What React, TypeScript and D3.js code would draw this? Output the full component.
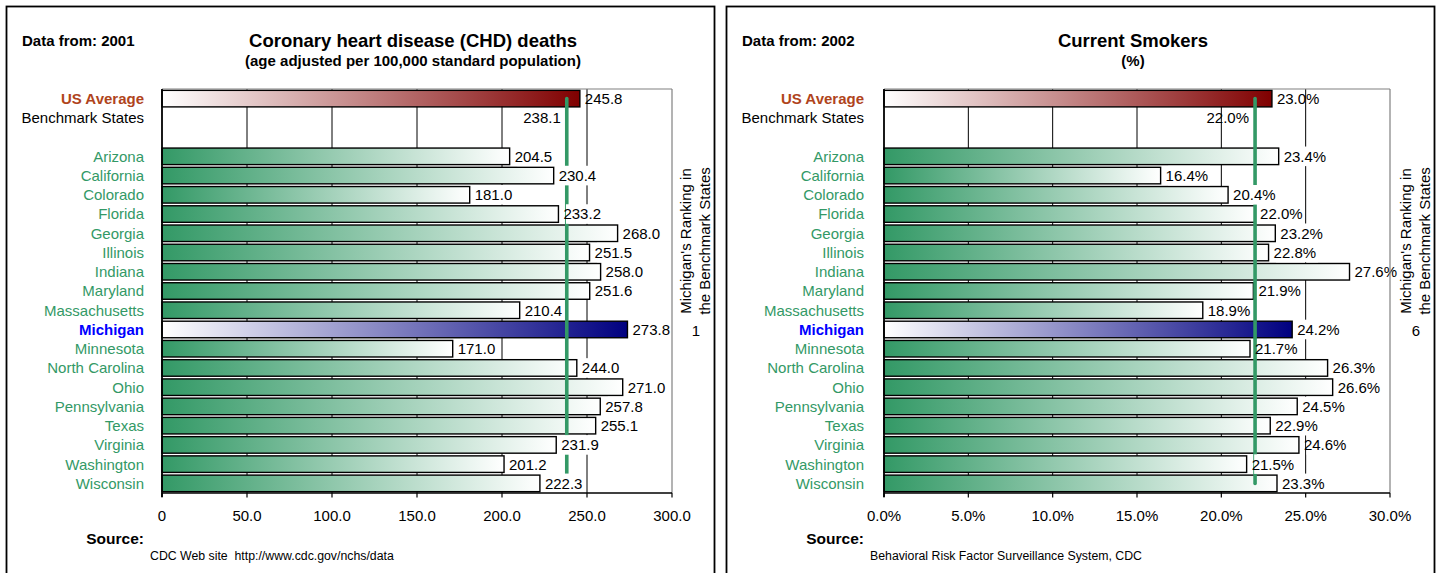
import React from 'react';
import * as d3 from 'd3';

// ---- data ----
const STATES = [
  'Arizona', 'California', 'Colorado', 'Florida', 'Georgia', 'Illinois', 'Indiana',
  'Maryland', 'Massachusetts', 'Michigan', 'Minnesota', 'North Carolina', 'Ohio',
  'Pennsylvania', 'Texas', 'Virginia', 'Washington', 'Wisconsin',
];
const CHD_VALUES = [
  204.5, 230.4, 181.0, 233.2, 268.0, 251.5, 258.0, 251.6, 210.4, 273.8,
  171.0, 244.0, 271.0, 257.8, 255.1, 231.9, 201.2, 222.3,
];
const CHD_US_AVERAGE = 245.8;
const CHD_BENCHMARK = 238.1;
const CHD_RANK = 1;
const CHD_TICKS = [0, 50, 100, 150, 200, 250, 300];

const SMOKER_VALUES = [
  23.4, 16.4, 20.4, 22.0, 23.2, 22.8, 27.6, 21.9, 18.9, 24.2,
  21.7, 26.3, 26.6, 24.5, 22.9, 24.6, 21.5, 23.3,
];
const SMOKER_US_AVERAGE = 23.0;
const SMOKER_BENCHMARK = 22.0;
const SMOKER_RANK = 6;
const SMOKER_TICKS = [0, 5, 10, 15, 20, 25, 30];

const ROW_LABELS = ['US Average', 'Benchmark States', '', ...STATES];

// ---- styling ----
const FONT = 'Liberation Sans, Arial, Helvetica, sans-serif';
const GREEN = '#339966';
const PLOT_TOP = 89;
const PLOT_BOTTOM = 493;
const FS = 15;

// approximate advance widths (Arial, 15px) for sizing label backgrounds
function labelWidth(s: string) {
  let w = 0;
  for (const ch of s) {
    if (ch === '.') w += 4.17;
    else if (ch === '%') w += 13.3;
    else w += 8.34;
  }
  return w;
}

type PanelProps = {
  id: string;
  left: number; // panel offset
  plotLeft: number;
  plotRight: number;
  max: number;
  ticks: number[];
  tickFormat: (v: number) => string;
  valueFormat: (v: number) => string;
  values: number[];
  usAverage: number;
  benchmark: number;
  rank: number;
  year: string;
  title: string;
  subtitle: string;
  source: string;
};

function Panel(p: PanelProps) {
  const x = d3.scaleLinear().domain([0, p.max]).range([p.plotLeft, p.plotRight]);
  const y = d3
    .scaleBand<number>()
    .domain(d3.range(ROW_LABELS.length))
    .range([PLOT_TOP, PLOT_BOTTOM])
    .paddingInner(0.14)
    .paddingOuter(0.07);
  const bw = y.bandwidth();
  const center = (i: number) => (y(i) as number) + bw / 2;
  const L = p.left;
  const titleX = L + 413;
  const labelX = L + 144;

  const bars = [
    { row: 0, value: p.usAverage, fill: `url(#${p.id}-us)`, bg: false },
    ...p.values.map((v, k) => ({
      row: k + 3,
      value: v,
      fill: STATES[k] === 'Michigan' ? `url(#${p.id}-mi)` : `url(#${p.id}-green)`,
      bg: true,
    })),
  ];

  const benchX = x(p.benchmark);

  const rowColor = (name: string, i: number) => {
    if (i === 0) return '#b0441c';
    if (i === 1) return '#000';
    if (name === 'Michigan') return '#0000ff';
    return GREEN;
  };

  return (
    <g>
      <defs>
        <linearGradient id={`${p.id}-green`} x1="0" x2="1" y1="0" y2="0">
          <stop offset="0" stopColor={GREEN} />
          <stop offset="1" stopColor="#ffffff" />
        </linearGradient>
        <linearGradient id={`${p.id}-us`} x1="0" x2="1" y1="0" y2="0">
          <stop offset="0" stopColor="#ffffff" />
          <stop offset="1" stopColor="#800000" />
        </linearGradient>
        <linearGradient id={`${p.id}-mi`} x1="0" x2="1" y1="0" y2="0">
          <stop offset="0" stopColor="#ffffff" />
          <stop offset="1" stopColor="#000080" />
        </linearGradient>
      </defs>

      {/* panel frame */}
      <rect x={L + 6.5} y={6.5} width={708} height={640} fill="#fff" stroke="#000" strokeWidth={1.8} />

      {/* headings */}
      <text x={L + 22} y={46} fontSize={15} fontWeight="bold">
        Data from: {p.year}
      </text>
      <text x={titleX} y={47} fontSize={18.5} fontWeight="bold" textAnchor="middle">
        {p.title}
      </text>
      <text x={titleX} y={66} fontSize={15} fontWeight="bold" textAnchor="middle">
        {p.subtitle}
      </text>

      {/* gridlines */}
      {p.ticks
        .filter((t) => t > 0 && t < p.max)
        .map((t) => (
          <line key={t} x1={x(t)} x2={x(t)} y1={PLOT_TOP} y2={PLOT_BOTTOM} stroke="#000" strokeWidth={1} />
        ))}

      {/* bars */}
      {bars.map((b) => (
        <rect
          key={b.row}
          x={x(0)}
          y={y(b.row)}
          width={x(b.value) - x(0)}
          height={bw}
          fill={b.fill}
          stroke="#000"
          strokeWidth={1.4}
        />
      ))}

      {/* benchmark average line */}
      <line
        x1={benchX}
        x2={benchX}
        y1={center(0)}
        y2={center(ROW_LABELS.length - 1)}
        stroke={GREEN}
        strokeWidth={3.6}
        strokeLinecap="round"
      />

      {/* value labels */}
      <g fontSize={FS} fill="#000">
        {bars.map((b) => {
          const txt = p.valueFormat(b.value);
          const tx = x(b.value) + 5;
          const c = center(b.row);
          return (
            <g key={b.row}>
              {b.bg && (
                <rect x={tx + 2.5} y={c - 9.8} width={labelWidth(txt) - 0.5} height={19.6} fill="#fff" />
              )}
              <text x={tx} y={c} dy="0.36em">
                {txt}
              </text>
            </g>
          );
        })}
        <text x={benchX - 6} y={center(1)} dy="0.36em" textAnchor="end">
          {p.valueFormat(p.benchmark)}
        </text>
      </g>

      {/* plot frame and axes */}
      <line x1={x(0)} x2={p.plotRight} y1={PLOT_TOP} y2={PLOT_TOP} stroke="#808080" strokeWidth={1.2} />
      <line x1={p.plotRight} x2={p.plotRight} y1={PLOT_TOP} y2={PLOT_BOTTOM} stroke="#808080" strokeWidth={1.2} />
      <line x1={x(0)} x2={x(0)} y1={PLOT_TOP} y2={PLOT_BOTTOM + 4} stroke="#000" strokeWidth={1.8} />
      <line x1={x(0)} x2={p.plotRight} y1={PLOT_BOTTOM} y2={PLOT_BOTTOM} stroke="#000" strokeWidth={1.5} />
      {p.ticks.map((t) => (
        <g key={t}>
          <line x1={x(t)} x2={x(t)} y1={PLOT_BOTTOM} y2={PLOT_BOTTOM + 4.5} stroke="#000" strokeWidth={1.2} />
          <text x={x(t)} y={521} fontSize={FS} textAnchor="middle">
            {p.tickFormat(t)}
          </text>
        </g>
      ))}

      {/* row labels */}
      {ROW_LABELS.map((name, i) =>
        name ? (
          <text
            key={i}
            x={labelX}
            y={center(i)}
            dy="0.36em"
            textAnchor="end"
            fontSize={FS}
            fontWeight={i === 0 || name === 'Michigan' ? 'bold' : 'normal'}
            fill={rowColor(name, i)}
          >
            {name}
          </text>
        ) : null
      )}

      {/* ranking note */}
      <g fontSize={FS} textAnchor="middle">
        <text transform={`translate(${L + 691},241) rotate(-90)`}>Michigan's Ranking in</text>
        <text transform={`translate(${L + 710},241) rotate(-90)`}>the Benchmark States</text>
        <text x={L + 696} y={331} dy="0.36em">
          {p.rank}
        </text>
      </g>

      {/* source */}
      <text x={L + 144} y={544} fontSize={15.5} fontWeight="bold" textAnchor="end">
        Source:
      </text>
      <text x={L + 150} y={560} fontSize={12.3} style={{ whiteSpace: 'pre' }}>
        {p.source}
      </text>
    </g>
  );
}

export default function App() {
  const fmt1 = d3.format('.1f');
  return (
    <svg
      width={1440}
      height={573}
      viewBox="0 0 1440 573"
      style={{ position: 'absolute', left: 0, top: 0, background: '#fff' }}
      fontFamily={FONT}
    >
      <rect width={1440} height={573} fill="#fff" />
      <Panel
        id="chd"
        left={0}
        plotLeft={162}
        plotRight={672}
        max={300}
        ticks={CHD_TICKS}
        tickFormat={(v) => (v === 0 ? '0' : fmt1(v))}
        valueFormat={(v) => fmt1(v)}
        values={CHD_VALUES}
        usAverage={CHD_US_AVERAGE}
        benchmark={CHD_BENCHMARK}
        rank={CHD_RANK}
        year="2001"
        title="Coronary heart disease (CHD) deaths"
        subtitle="(age adjusted per 100,000 standard population)"
        source="CDC Web site  http://www.cdc.gov/nchs/data"
      />
      <Panel
        id="smk"
        left={720}
        plotLeft={884}
        plotRight={1390}
        max={30}
        ticks={SMOKER_TICKS}
        tickFormat={(v) => fmt1(v) + '%'}
        valueFormat={(v) => fmt1(v) + '%'}
        values={SMOKER_VALUES}
        usAverage={SMOKER_US_AVERAGE}
        benchmark={SMOKER_BENCHMARK}
        rank={SMOKER_RANK}
        year="2002"
        title="Current Smokers"
        subtitle="(%)"
        source="Behavioral Risk Factor Surveillance System, CDC"
      />
    </svg>
  );
}
